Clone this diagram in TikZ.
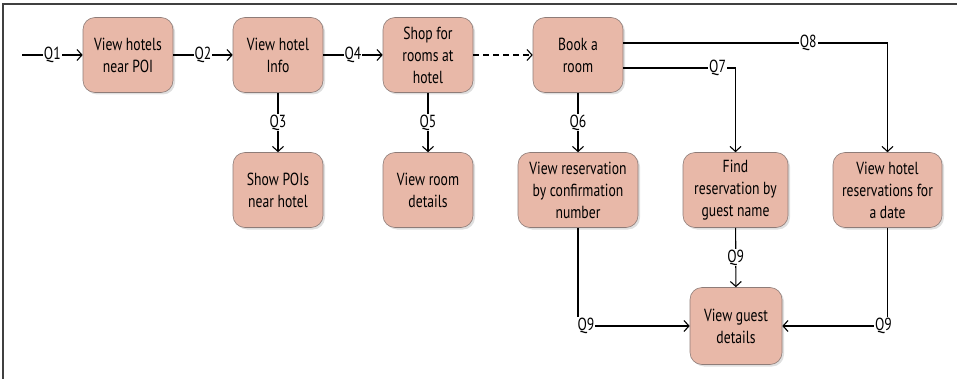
\documentclass[tikz,border=0pt]{standalone}
\usepackage{fontspec}
\setmainfont{PT Sans}[FakeStretch=0.78]
\usetikzlibrary{arrows.meta,shadows}
\definecolor{boxfill}{HTML}{E8B8A8}
\definecolor{boxline}{HTML}{8E7C78}
\tikzset{
  box/.style={draw=boxline, fill=boxfill, rounded corners=12pt, align=center,
    minimum width=90pt, minimum height=75pt, inner sep=2pt, line width=0.6pt,
    font=\fontsize{17.5}{22}\selectfont,
    drop shadow={opacity=0.25, shadow xshift=2pt, shadow yshift=-2pt}},
  flow/.style={line width=1.1pt, -{Straight Barb[length=5pt,width=11pt,line width=1.1pt]}},
  lbl/.style={fill=white, inner sep=1pt, font=\fontsize{17.5}{22}\selectfont}
}
\begin{document}
\begin{tikzpicture}[x=1pt,y=-1pt]
  \useasboundingbox (0,0) rectangle (957,379);
  \draw[line width=1.5pt, black!75] (3,379) -- (3,4) -- (957,4);
  % top row
  \node[box] (poi) at (128,55) {View hotels\\near POI};
  \node[box] (info) at (278,55) {View hotel\\Info};
  \node[box] (shop) at (428,55) {Shop for\\rooms at\\hotel};
  \node[box] (book) at (578,55) {Book a\\room};
  % second row
  \node[box] (pois) at (278,190) {Show POIs\\near hotel};
  \node[box] (room) at (428,190) {View room\\details};
  \node[box, minimum width=120pt] (conf) at (578,190) {View reservation\\by confirmation\\number};
  \node[box, minimum width=105pt] (guest) at (735.5,190) {Find\\reservation by\\guest name};
  \node[box, minimum width=109pt] (date) at (887.5,190) {View hotel\\reservations for\\a date};
  % bottom
  \node[box, minimum width=92pt, minimum height=77pt] (details) at (736,326) {View guest\\details};
  \coordinate (start) at (22,55);
  % connectors
  \draw[flow] (start) -- node[lbl]{Q1} (poi);
  \draw[flow] (poi) -- node[lbl]{Q2} (info);
  \draw[flow] (info) -- node[lbl]{Q4} (shop);
  \draw[flow, dashed, dash pattern=on 6pt off 4pt] (shop) -- (book);
  \draw[flow] (info) -- node[lbl]{Q3} (pois);
  \draw[flow] (shop) -- node[lbl]{Q5} (room);
  \draw[flow] (book) -- node[lbl]{Q6} (conf);
  \draw[flow] ([yshift=12pt]book.east) -| node[lbl, pos=0.35]{Q8} (date);
  \draw[flow] ([yshift=-13pt]book.east) -| node[lbl, pos=0.42]{Q7} (guest);
  \draw[flow] (guest) -- node[lbl]{Q9} (details);
  \draw[flow] (conf) |- node[lbl, pos=0.5, xshift=8pt]{Q9} (details);
  \draw[flow] (date) |- node[lbl, pos=0.5, xshift=-4pt]{Q9} (details);
\end{tikzpicture}
\end{document}
